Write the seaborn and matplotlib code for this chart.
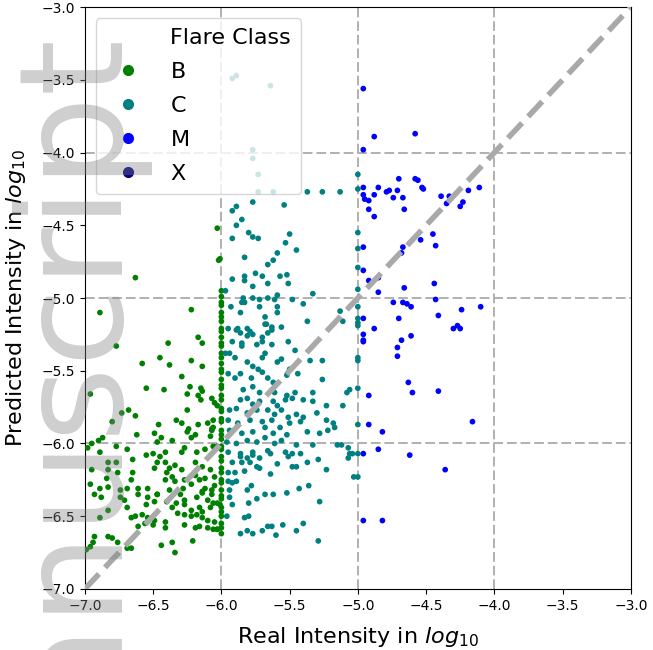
import pandas as pd
import matplotlib
matplotlib.use('Agg')
import matplotlib.pyplot as plt
import seaborn as sns
from matplotlib.lines import Line2D

# (real, predicted) in log10
b_points = [(-6.89, -5.10), (-6.22, -5.08), (-6.77, -5.33), (-6.39, -5.31), (-6.17, -5.27), (-6.14, -5.31),
            (-6.45, -5.41), (-6.58, -5.45), (-6.38, -5.46), (-6.22, -5.43), (-6.14, -5.47), (-6.29, -5.54),
            (-6.55, -5.62), (-6.42, -5.63), (-6.23, -5.61), (-6.15, -5.62), (-6.14, -5.64), (-6.25, -5.66),
            (-6.17, -5.67), (-6.15, -5.70), (-6.96, -5.66), (-6.07, -5.69), (-6.03, -5.74), (-6.68, -5.77),
            (-6.73, -5.79), (-6.63, -5.81), (-6.25, -5.77), (-6.80, -5.85), (-6.46, -5.87), (-6.33, -5.84),
            (-6.29, -5.86), (-6.17, -5.87), (-6.10, -5.86), (-6.24, -5.90), (-6.07, -5.90),
            (-6.03, -4.52), (-6.02, -4.74), (-6.01, -4.73), (-6.63, -4.86),
            (-6.05, -5.72), (-6.06, -5.84), (-6.07, -5.91), (-6.03, -6.02),
            (-6.05, -6.23), (-6.05, -6.29), (-6.07, -6.35), (-6.06, -6.41), (-6.01, -6.42), (-6.06, -6.59),
            (-6.03, -6.59),
            (-6.62, -5.94), (-6.49, -5.93), (-6.44, -5.96), (-6.36, -5.98), (-6.47, -5.99), (-6.25, -5.92),
            (-6.19, -5.94), (-6.22, -5.96), (-6.08, -5.95), (-6.06, -5.89),
            (-6.95, -6.00), (-6.90, -5.98), (-6.87, -5.96), (-6.98, -6.03), (-6.89, -6.06), (-6.77, -6.02),
            (-6.69, -6.04),
            (-6.55, -6.08), (-6.50, -6.07), (-6.45, -6.09), (-6.41, -6.06), (-6.29, -6.06), (-6.27, -6.03),
            (-6.18, -6.06), (-6.12, -6.04), (-6.06, -6.02),
            (-6.83, -6.13), (-6.77, -6.13), (-6.65, -6.11), (-6.47, -6.13), (-6.41, -6.13), (-6.38, -6.17),
            (-6.34, -6.15), (-6.19, -6.13), (-6.14, -6.16), (-6.08, -6.18),
            (-6.95, -6.18), (-6.83, -6.18), (-6.76, -6.20), (-6.65, -6.20), (-6.49, -6.17), (-6.40, -6.20),
            (-6.36, -6.23), (-6.29, -6.18), (-6.19, -6.22),
            (-6.84, -6.24), (-6.66, -6.25), (-6.41, -6.25), (-6.34, -6.26), (-6.27, -6.25), (-6.16, -6.25),
            (-6.12, -6.24),
            (-6.96, -6.28), (-6.89, -6.31), (-6.83, -6.30), (-6.74, -6.32), (-6.69, -6.31), (-6.61, -6.31),
            (-6.54, -6.31), (-6.47, -6.35), (-6.38, -6.32), (-6.28, -6.31), (-6.22, -6.28), (-6.14, -6.33),
            (-6.12, -6.31), (-6.07, -6.32),
            (-6.93, -6.35), (-6.88, -6.37), (-6.74, -6.37), (-6.71, -6.39), (-6.61, -6.35), (-6.54, -6.37),
            (-6.47, -6.35), (-6.30, -6.35), (-6.27, -6.39), (-6.18, -6.37), (-6.14, -6.34), (-6.10, -6.39),
            (-6.83, -6.46), (-6.69, -6.44), (-6.55, -6.42), (-6.49, -6.40), (-6.40, -6.40), (-6.36, -6.44),
            (-6.33, -6.41), (-6.27, -6.42), (-6.22, -6.46), (-6.16, -6.44), (-6.14, -6.47), (-6.08, -6.44),
            (-6.03, -6.41),
            (-6.89, -6.51), (-6.66, -6.51), (-6.63, -6.50), (-6.58, -6.49), (-6.54, -6.51), (-6.49, -6.53),
            (-6.32, -6.48), (-6.27, -6.49), (-6.22, -6.50), (-6.18, -6.49), (-6.14, -6.51), (-6.10, -6.53),
            (-6.05, -6.54),
            (-6.61, -6.57), (-6.56, -6.55), (-6.50, -6.56), (-6.41, -6.54), (-6.41, -6.58), (-6.27, -6.56),
            (-6.19, -6.58), (-6.16, -6.57), (-6.10, -6.58), (-6.03, -6.59),
            (-6.93, -6.64), (-6.94, -6.68), (-6.96, -6.71), (-6.83, -6.64), (-6.80, -6.65), (-6.76, -6.68),
            (-6.69, -6.72), (-6.66, -6.72), (-6.44, -6.70), (-6.36, -6.68), (-6.21, -6.67), (-6.34, -6.75),
            (-6.99, -6.73)]

# B flares stacked right at real = -6.0
b_edge_pred = [-4.95, -4.99, -5.03, -5.05, -5.10, -5.13, -5.16, -5.21, -5.23, -5.27, -5.31, -5.33, -5.38,
               -5.41, -5.45, -5.49, -5.51, -5.56, -5.60, -5.62, -5.67, -5.70, -5.76, -5.78, -5.83, -5.85,
               -5.91, -5.94, -5.97, -6.02, -6.04, -6.09, -6.12, -6.17, -6.20, -6.25, -6.27, -6.32, -6.36,
               -6.38, -6.44, -6.47, -6.50, -6.55, -6.58, -6.62]

c_points = [(-5.92, -3.49), (-5.89, -3.47), (-5.64, -3.54), (-5.77, -3.98), (-5.77, -4.04), (-5.73, -4.15),
            (-5.73, -4.27), (-5.62, -4.27), (-5.37, -4.27), (-5.26, -4.27), (-5.13, -4.27),
            (-5.77, -4.34), (-5.54, -4.36), (-5.89, -4.37), (-5.92, -4.40), (-5.85, -4.46), (-5.89, -4.50),
            (-5.80, -4.55), (-5.77, -4.58), (-5.73, -4.59), (-5.50, -4.56), (-5.92, -4.59), (-5.53, -4.62),
            (-5.45, -4.67), (-5.59, -4.69), (-5.83, -4.72), (-5.62, -4.74), (-5.66, -4.77), (-5.75, -4.83),
            (-5.70, -4.85), (-5.57, -4.85), (-5.52, -4.84), (-5.92, -4.87), (-5.83, -4.85), (-5.83, -4.88),
            (-5.66, -4.90), (-5.51, -4.90), (-5.77, -4.92), (-5.97, -4.95), (-5.33, -4.97), (-5.84, -5.00),
            (-5.77, -5.00), (-5.72, -5.01), (-5.66, -5.00), (-5.59, -4.98), (-5.61, -5.01), (-5.48, -5.01),
            (-5.40, -5.04), (-5.93, -5.06), (-5.85, -5.03), (-5.83, -5.03), (-5.72, -5.06), (-5.59, -5.06),
            (-5.86, -5.10), (-5.59, -5.10), (-5.68, -5.13), (-5.37, -5.16), (-5.68, -5.18), (-5.63, -5.20),
            (-5.56, -5.20), (-5.95, -5.21), (-5.88, -5.21), (-5.81, -5.21), (-5.13, -5.09), (-5.11, -5.16),
            (-5.89, -5.22), (-5.86, -5.24), (-5.79, -5.23), (-5.77, -5.25), (-5.81, -5.26), (-5.70, -5.27),
            (-5.66, -5.24), (-5.63, -5.22), (-5.67, -5.18),
            (-5.92, -5.30), (-5.85, -5.31), (-5.85, -5.33), (-5.74, -5.32), (-5.70, -5.30), (-5.63, -5.32),
            (-5.51, -5.30),
            (-5.97, -5.38), (-5.94, -5.38), (-5.68, -5.38), (-5.70, -5.41), (-5.46, -5.36), (-5.90, -5.41),
            (-5.81, -5.44), (-5.77, -5.47), (-5.59, -5.44), (-5.56, -5.42), (-5.35, -5.43), (-5.26, -5.43),
            (-5.73, -5.49), (-5.70, -5.51), (-5.50, -5.49), (-5.95, -5.52), (-5.90, -5.55), (-5.86, -5.52),
            (-5.78, -5.55), (-5.66, -5.55), (-5.62, -5.58), (-5.52, -5.53), (-5.44, -5.52), (-5.26, -5.56),
            (-5.06, -5.63),
            (-5.84, -5.63), (-5.77, -5.61), (-5.72, -5.65), (-5.61, -5.65), (-5.52, -5.67), (-5.46, -5.65),
            (-5.33, -5.65), (-5.08, -5.65),
            (-5.86, -5.70), (-5.81, -5.69), (-5.77, -5.73), (-5.72, -5.71), (-5.62, -5.71), (-5.59, -5.74),
            (-5.53, -5.70), (-5.48, -5.69), (-5.40, -5.70), (-5.33, -5.71), (-5.23, -5.74), (-5.11, -5.74),
            (-5.94, -5.77), (-5.89, -5.76), (-5.81, -5.79), (-5.74, -5.77), (-5.66, -5.77), (-5.61, -5.80),
            (-5.56, -5.77), (-5.51, -5.82), (-5.45, -5.80), (-5.40, -5.82), (-5.30, -5.79),
            (-5.95, -5.84), (-5.88, -5.86), (-5.79, -5.84), (-5.70, -5.85), (-5.63, -5.84), (-5.57, -5.89),
            (-5.50, -5.86), (-5.42, -5.85), (-5.23, -5.84), (-5.17, -5.89), (-5.18, -5.86),
            (-5.94, -5.91), (-5.85, -5.93), (-5.77, -5.92), (-5.68, -5.89), (-5.62, -5.93), (-5.52, -5.94),
            (-5.37, -5.92), (-5.28, -5.93), (-5.22, -5.91),
            (-5.96, -5.99), (-5.89, -6.00), (-5.81, -5.98), (-5.74, -5.99), (-5.68, -5.96), (-5.61, -6.00),
            (-5.56, -5.98), (-5.45, -6.01), (-5.33, -6.01), (-5.15, -6.01), (-5.07, -6.03), (-5.12, -6.01),
            (-5.95, -6.06), (-5.86, -6.07), (-5.77, -6.06), (-5.66, -6.05), (-5.53, -6.06), (-5.42, -6.07),
            (-5.06, -6.07), (-5.23, -6.18), (-5.03, -6.23), (-5.28, -6.40),
            (-5.86, -6.09), (-5.81, -6.10), (-5.77, -6.08), (-5.72, -6.10), (-5.92, -6.13), (-5.85, -6.13),
            (-5.79, -6.13), (-5.74, -6.16), (-5.72, -6.17),
            (-5.64, -6.07), (-5.51, -6.09), (-5.48, -6.07), (-5.59, -6.14), (-5.48, -6.16), (-5.45, -6.16),
            (-5.37, -6.13), (-5.29, -6.11), (-5.07, -6.10), (-5.04, -6.07),
            (-5.95, -6.20), (-5.90, -6.20), (-5.83, -6.19), (-5.64, -6.21),
            (-5.95, -6.26), (-5.92, -6.27), (-5.89, -6.26), (-5.78, -6.29), (-5.94, -6.32),
            (-5.81, -6.32), (-5.68, -6.35), (-5.62, -6.35), (-5.52, -6.34), (-5.43, -6.31), (-5.36, -6.29),
            (-5.94, -6.37), (-5.92, -6.42), (-5.80, -6.41), (-5.74, -6.38),
            (-5.96, -6.50), (-5.83, -6.51), (-5.80, -6.50),
            (-5.86, -6.62), (-5.81, -6.60), (-5.77, -6.62), (-5.70, -6.60), (-5.66, -6.57), (-5.63, -6.57),
            (-5.60, -6.63), (-5.55, -6.56), (-5.45, -6.60), (-5.40, -6.55), (-5.29, -6.67)]

# C flares stacked at real = -5.0
c_edge_pred = [-4.15, -4.25, -4.55, -4.66, -4.79, -4.94, -5.06, -5.14, -5.17, -5.19, -5.41, -5.43, -5.62,
               -5.87, -6.07, -6.23]

m_points = [(-4.96, -3.56), (-4.88, -3.89), (-4.58, -3.87), (-4.96, -3.98), (-4.70, -4.18), (-4.58, -4.18),
            (-4.56, -4.19), (-4.96, -4.24), (-4.88, -4.29), (-4.85, -4.24), (-4.79, -4.27), (-4.77, -4.26),
            (-4.71, -4.26), (-4.67, -4.31), (-4.66, -4.39), (-4.74, -4.31), (-4.96, -4.29), (-4.95, -4.32),
            (-4.92, -4.33), (-4.92, -4.39), (-4.88, -4.44), (-4.53, -4.24), (-4.52, -4.25),
            (-4.39, -4.30), (-4.33, -4.30), (-4.35, -4.35), (-4.25, -4.37), (-4.23, -4.34), (-4.19, -4.26),
            (-4.11, -4.24), (-4.45, -4.56), (-4.54, -4.60), (-4.43, -4.64), (-4.96, -4.65), (-4.67, -4.65),
            (-4.68, -4.69), (-4.96, -4.81), (-4.92, -4.88), (-4.85, -4.86), (-4.85, -4.96), (-4.66, -4.93),
            (-4.44, -4.90), (-4.43, -5.01), (-4.74, -5.03), (-4.67, -5.03), (-4.64, -5.04), (-4.61, -5.06),
            (-4.96, -5.14), (-4.70, -5.14), (-4.41, -5.12), (-4.24, -5.08), (-4.10, -5.06), (-4.88, -5.21),
            (-4.30, -5.21), (-4.27, -5.19), (-4.25, -5.21), (-4.96, -5.25), (-4.96, -5.29), (-4.96, -5.30),
            (-4.68, -5.29), (-4.61, -5.26), (-4.71, -5.34), (-4.71, -5.40), (-4.63, -5.58), (-4.60, -5.65),
            (-4.41, -5.64), (-4.92, -5.67), (-4.92, -5.87), (-4.82, -5.92), (-4.16, -5.85), (-4.96, -6.07),
            (-4.85, -6.04), (-4.62, -6.08), (-4.36, -6.18), (-4.96, -6.53), (-4.82, -6.53)]

classes = ['B', 'C', 'M', 'X']
colors = ['green', 'teal', 'blue', 'navy']

rows = [(x, y, 'B') for x, y in b_points]
rows += [(-6.0, y, 'B') for y in b_edge_pred]
rows += [(x, y, 'C') for x, y in c_points]
rows += [(-5.0, y, 'C') for y in c_edge_pred]
rows += [(x, y, 'M') for x, y in m_points]
df = pd.DataFrame(rows, columns=['real', 'pred', 'cls'])

fig = plt.figure(figsize=(6.53, 6.5), dpi=100)
ax = fig.add_axes([0.130, 0.094, 0.836, 0.895])

for v in (-6, -5, -4):
    ax.axvline(v, color='#b0b0b0', lw=1.4, dashes=(5, 2), zorder=1)
    ax.axhline(v, color='#b0b0b0', lw=1.4, dashes=(5, 2), zorder=1)

sns.scatterplot(data=df, x='real', y='pred', hue='cls', hue_order=classes,
                palette=dict(zip(classes, colors)), s=17, linewidth=0,
                legend=False, ax=ax, zorder=3)
ax.plot([-7, -3], [-7, -3], ls='--', lw=4, color='darkgray', zorder=4)

ax.set_xlim(-7, -3)
ax.set_ylim(-7, -3)
ticks = [-7.0, -6.5, -6.0, -5.5, -5.0, -4.5, -4.0, -3.5, -3.0]
ax.set_xticks(ticks)
ax.set_yticks(ticks)
ax.set_xticklabels([f'{t:.1f}'.replace('-', '\u2212') for t in ticks], fontsize=10)
ax.set_yticklabels([f'{t:.1f}'.replace('-', '\u2212') for t in ticks], fontsize=10)
ax.set_xlabel('Real Intensity in $log_{10}$', fontsize=16, labelpad=9)
ax.set_ylabel('Predicted Intensity in $log_{10}$', fontsize=16, labelpad=10)

# old-style seaborn legend: the title sits in as an entry with no marker
handles = [Line2D([], [], ls='', marker='')]
handles += [Line2D([], [], ls='', marker='o', color=c, markersize=7) for c in colors]
ax.legend(handles, ['Flare Class'] + classes, loc='upper left', fontsize=16,
          handletextpad=0.9, labelspacing=0.63, borderpad=0.45)

# faint "manuscript" watermark along the left edge
fig.text(0.168, -0.292, 'manuscript', rotation=90, rotation_mode='anchor',
         ha='left', va='baseline', fontsize=104, color='gray', alpha=0.38)

fig.savefig('out.png', dpi=100)
